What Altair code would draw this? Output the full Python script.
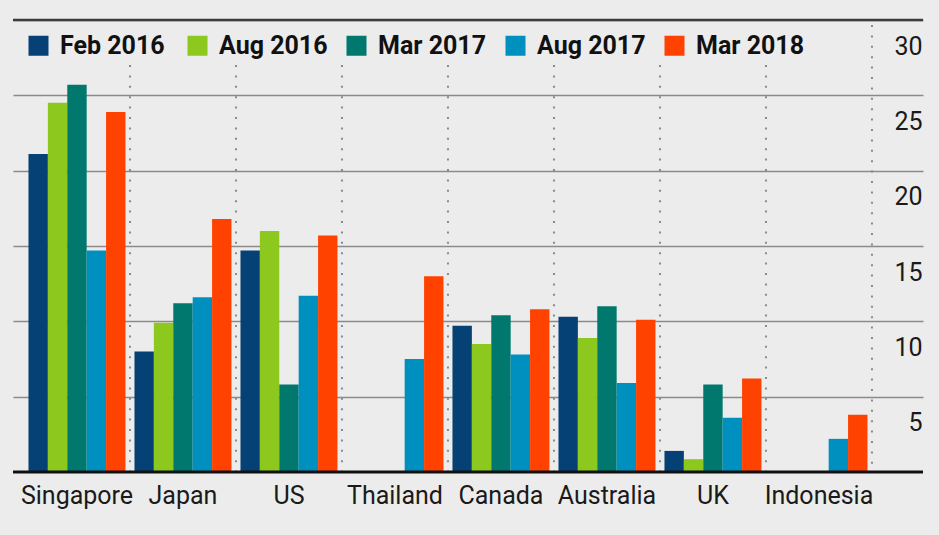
import altair as alt
import pandas as pd

countries = ["Singapore", "Japan", "US", "Thailand", "Canada", "Australia", "UK", "Indonesia"]
periods = ["Feb 2016", "Aug 2016", "Mar 2017", "Aug 2017", "Mar 2018"]

feb_2016 = [21.1, 8.0, 14.7, None, 9.7, 10.3, 1.4, None]
aug_2016 = [24.5, 9.9, 16.0, None, 8.5, 8.9, 0.85, None]
mar_2017 = [25.7, 11.2, 5.8, None, 10.4, 11.0, 5.8, None]
aug_2017 = [14.7, 11.6, 11.7, 7.5, 7.8, 5.9, 3.6, 2.2]
mar_2018 = [23.9, 16.8, 15.7, 13.0, 10.8, 10.1, 6.2, 3.8]

y_ticks = [5, 10, 15, 20, 25, 30]
colors = ["#054174", "#8cc81e", "#00786e", "#0090c0", "#ff4200"]

rows = []
for p, vals in zip(periods, [feb_2016, aug_2016, mar_2017, aug_2017, mar_2018]):
    for c, v in zip(countries, vals):
        if v is not None:
            rows.append({"country": c, "period": p, "value": v})
df = pd.DataFrame(rows)
sep = pd.DataFrame({"country": countries})

FONT = "Roboto"

x_scale = alt.Scale(paddingInner=0, paddingOuter=0.2925, align=0.177)
x_axis = alt.Axis(
    orient="bottom", domain=False, ticks=False, tickSize=0, labelAngle=0,
    labelAlign="center", labelPadding=31, labelBaseline="alphabetic", labelFont=FONT,
    labelFontSize=25, labelColor="#1a1a1a", title=None, grid=False,
)
y_axis = alt.Axis(
    orient="right", values=y_ticks, grid=True, gridColor="#8a8a8a", gridWidth=1.6,
    domain=False, ticks=False, tickSize=0, labelAlign="right",
    labelBaseline="alphabetic", labelOffset=34, labelPadding=-1,
    labelFont=FONT, labelFontSize=25, labelColor="#1a1a1a", title=None,
)

bars = alt.Chart(df).mark_bar().encode(
    x=alt.X("country:N", sort=countries, scale=x_scale, axis=x_axis),
    xOffset=alt.XOffset("period:N", sort=periods,
                        scale=alt.Scale(paddingInner=0, paddingOuter=0.232)),
    y=alt.Y("value:Q", scale=alt.Scale(domain=[0, 30], nice=False, zero=True), axis=y_axis),
    color=alt.Color(
        "period:N", sort=periods,
        scale=alt.Scale(domain=periods, range=colors),
        legend=alt.Legend(
            orient="none", legendX=13, legendY=13, direction="horizontal",
            columns=5, gridAlign="all", symbolType="square", symbolSize=400,
            symbolStrokeWidth=0, symbolOpacity=1, labelFont=FONT, labelFontSize=25,
            labelFontWeight="bold", labelColor="#111111", labelOffset=9,
            columnPadding=16, title=None, padding=0, labelLimit=0,
        ),
    ),
)

sep_inner = alt.Chart(sep).transform_filter(
    alt.datum.country != "Indonesia"
).mark_rule(color="#8a8a8a", strokeWidth=2, strokeDash=[2, 8.4]).encode(
    x=alt.X("country:N", sort=countries, bandPosition=1, title=None),
    y=alt.value(45),
    y2=alt.value(452),
)
sep_last = alt.Chart(sep).transform_filter(
    alt.datum.country == "Indonesia"
).mark_rule(color="#8a8a8a", strokeWidth=2, strokeDash=[2, 8.4]).encode(
    x=alt.X("country:N", sort=countries, bandPosition=1, title=None),
    y=alt.value(5),
    y2=alt.value(452),
)

one = alt.Data(values=[{"k": 1}])
top_rule = alt.Chart(one).mark_rule(color="#3c3c3c", strokeWidth=2.5).encode(y=alt.datum(30))
base_rule = alt.Chart(one).mark_rule(color="#111111", strokeWidth=3).encode(y=alt.datum(0))

chart = alt.layer(sep_inner, sep_last, bars, top_rule, base_rule).properties(
    width=910, height=452,
    padding={"left": 13, "top": 20, "right": 16, "bottom": 63},
    autosize=alt.AutoSizeParams(type="none"),
    background="#ececec",
).configure_view(stroke=None)

chart.save("out.html", embed_options={"renderer": "svg", "actions": False})
